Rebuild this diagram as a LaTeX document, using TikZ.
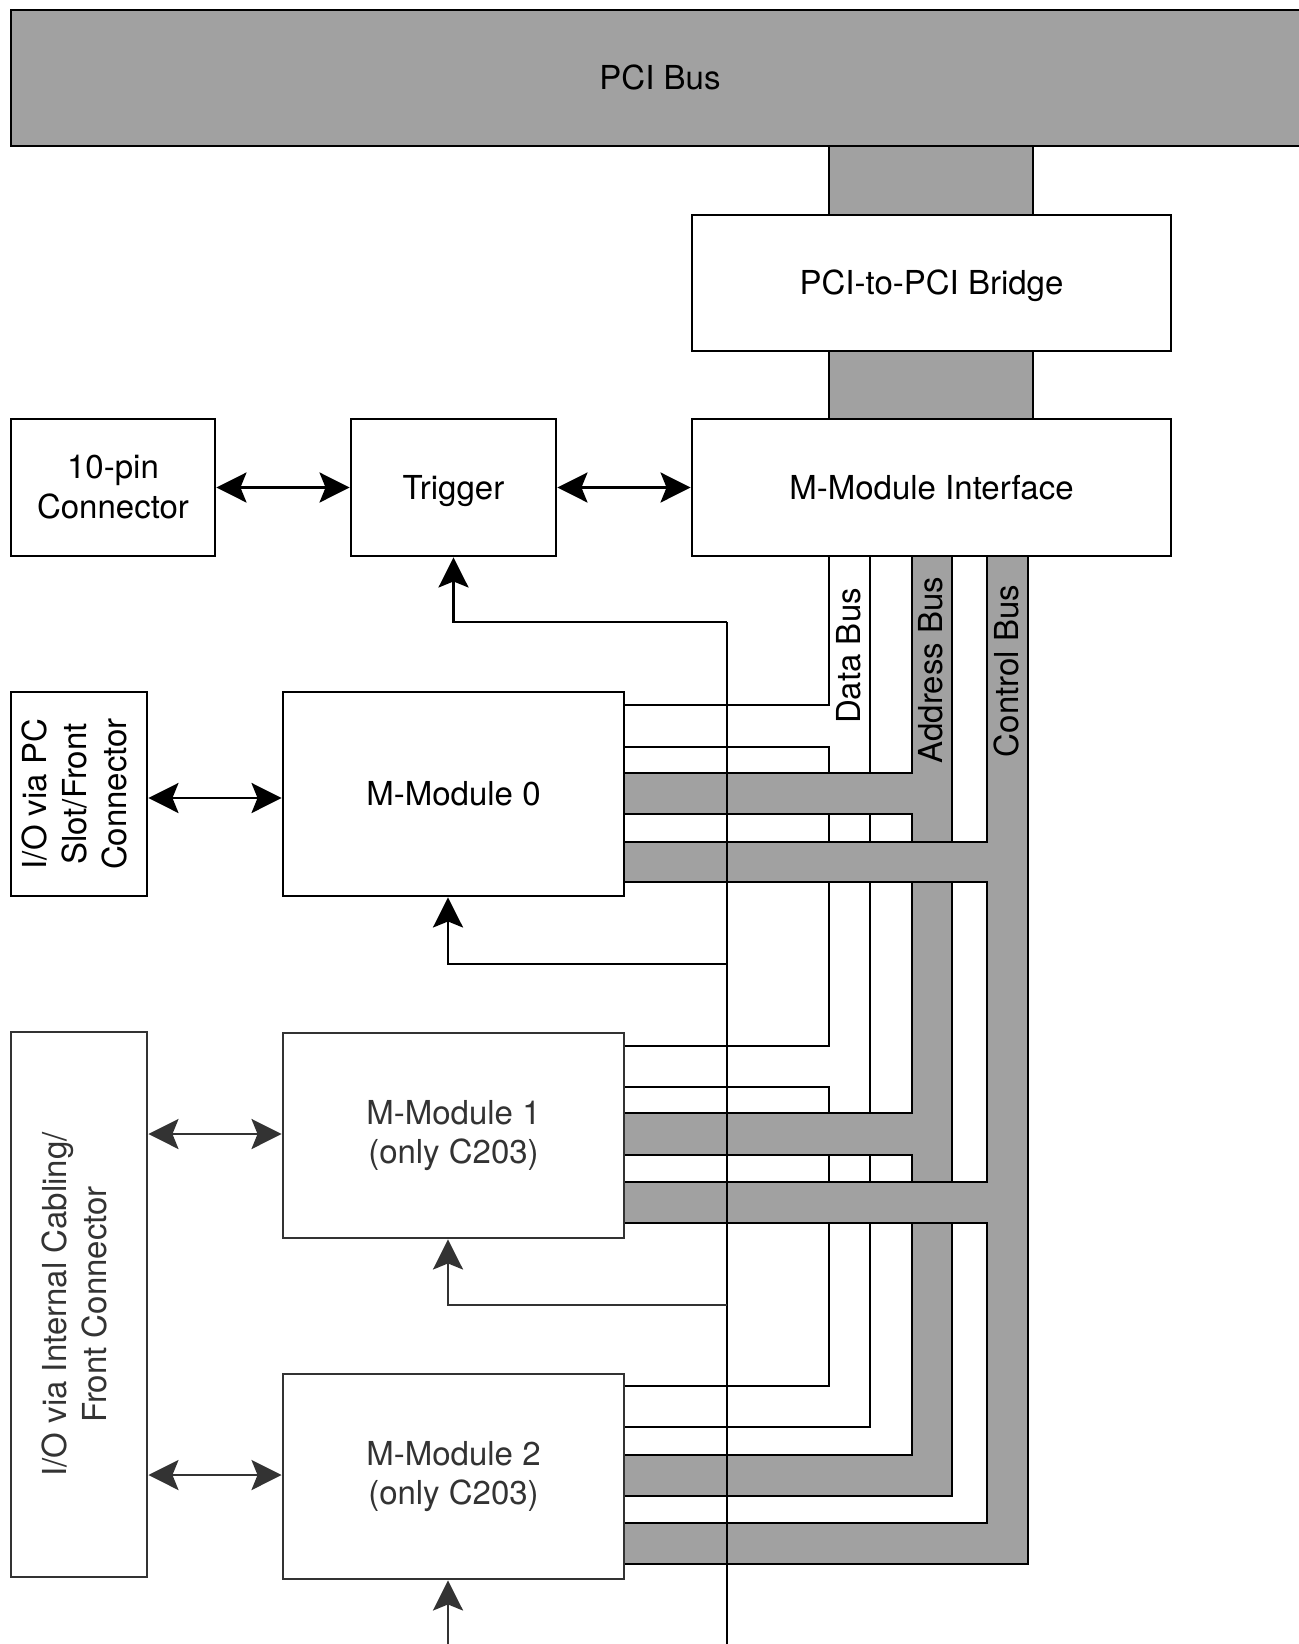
\documentclass[tikz,border=0pt]{standalone}
\usepackage{fontspec}
\setmainfont{TeX Gyre Heros}
\usetikzlibrary{arrows.meta}
\definecolor{busgray}{RGB}{161,161,161}
\definecolor{dk}{RGB}{51,51,51}
\begin{document}
\begin{tikzpicture}[x=0.5pt,y=-0.5pt,line width=1.45pt,
  font=\fontsize{16.5pt}{19.5pt}\selectfont,
  box/.style={draw,fill=white,inner sep=0pt,align=center},
  one/.style={text height=11.85pt,text depth=0pt},
  barr/.style={{Stealth[length=15pt,width=15pt,inset=3pt]}-{Stealth[length=15pt,width=15pt,inset=3pt]}},
  uarr/.style={-{Stealth[length=15pt,width=15pt,inset=3pt]}},
  lab/.style={rotate=90,inner sep=0pt}]
\useasboundingbox (0,0) rectangle (1299,1644);

% PCI bus and bridge connectors
\node[box,one,fill=busgray,minimum width=649pt,minimum height=68pt] (pci) at (660,78) {PCI Bus};
\fill[busgray] (829,147) rectangle (1033,215);
\fill[busgray] (829,351) rectangle (1033,419);
\draw (829,147) -- (829,215);
\draw (1033,147) -- (1033,215);
\draw (829,351) -- (829,419);
\draw (1033,351) -- (1033,419);

% Data bus (white pipe)
\draw (829,556) -- (829,705) -- (624,705);
\draw (624,747) -- (829,747) -- (829,1046) -- (624,1046);
\draw (624,1087) -- (829,1087) -- (829,1386) -- (624,1386);
\draw (870,556) -- (870,1427) -- (624,1427);

% Address bus (gray pipe)
\fill[busgray] (912,556) rectangle (952,1496);
\fill[busgray] (624,773) rectangle (913,814);
\fill[busgray] (624,1113) rectangle (913,1155);
\fill[busgray] (624,1455) rectangle (952,1496);
\draw (912,556) -- (912,773) -- (624,773);
\draw (624,814) -- (912,814) -- (912,1113) -- (624,1113);
\draw (624,1155) -- (912,1155) -- (912,1455) -- (624,1455);
\draw (952,556) -- (952,1496) -- (624,1496);

% Control bus (gray pipe)
\fill[busgray] (987,556) rectangle (1028,1564);
\fill[busgray] (624,842) rectangle (988,882);
\fill[busgray] (624,1182) rectangle (988,1223);
\fill[busgray] (624,1523) rectangle (1028,1564);
\draw (987,556) -- (987,842) -- (624,842);
\draw (624,882) -- (987,882) -- (987,1182) -- (624,1182);
\draw (624,1223) -- (987,1223) -- (987,1523) -- (624,1523);
\draw (1028,556) -- (1028,1564) -- (624,1564);

% bus labels
\node[lab] (dlab) at (849,656) {Data Bus};
\node[lab] (alab) at (931,670) {Address Bus};
\node[lab] (clab) at (1006,671) {Control Bus};

% blocks
\node[box,one,minimum width=239.5pt,minimum height=68pt] (bridge) at (931.5,283) {PCI-to-PCI Bridge};
\node[box,one,minimum width=239.5pt,minimum height=68.5pt] (mmi) at (931.5,487.5) {M-Module Interface};
\node[box,minimum width=102pt,minimum height=68.5pt] (pin) at (113,487.5) {10-pin\\[0.5pt]Connector};
\node[box,one,minimum width=102.5pt,minimum height=68.5pt] (trig) at (453.5,487.5) {Trigger};
\node[box,minimum width=68pt,minimum height=102pt] (iopc) at (79,794) {\rotatebox{90}{\begin{tabular}{@{}c@{}}I/O via PC\\[0.5pt]Slot/Front\\[0.5pt]Connector\end{tabular}}};
\node[box,one,minimum width=170.5pt,minimum height=102pt] (m0) at (453.5,794) {M-Module 0};
\node[box,draw=dk,text=dk,minimum width=170.5pt,minimum height=102.5pt] (m1) at (453.5,1135.5) {M-Module 1\\(only C203)};
\node[box,draw=dk,text=dk,minimum width=170.5pt,minimum height=102.5pt] (m2) at (453.5,1476.5) {M-Module 2\\(only C203)};
\node[box,draw=dk,text=dk,minimum width=68pt,minimum height=272.5pt] (iocab) at (79,1304.5) {\rotatebox{90}{\begin{tabular}{@{}c@{}}I/O via Internal Cabling/\\[0.5pt]Front Connector\end{tabular}}};

% arrows
\draw[barr] (pin.east) -- (trig.west);
\draw[barr] (trig.east) -- (mmi.west);
\draw[barr] (iopc.east |- 0,798) -- (m0.west |- 0,798);
\draw[barr,dk] (iocab.east |- 0,1134) -- (m1.west |- 0,1134);
\draw[barr,dk] (iocab.east |- 0,1475) -- (m2.west |- 0,1475);

% trigger lines
\coordinate (t0) at (727,622);
\coordinate (t1) at (727,964);
\coordinate (t2) at (727,1305);
\coordinate (tb) at (727,1644);
\coordinate (tb2) at (448,1644);
\draw (t0) -- (tb);
\draw[uarr] (t0) -| (trig.south);
\draw[uarr] (t1) -| ([xshift=-2.75pt]m0.south);
\draw[uarr,dk] (t2) -| ([xshift=-2.75pt]m1.south);
\draw[uarr,dk] (tb2) -- ([xshift=-2.75pt]m2.south);
\end{tikzpicture}
\end{document}
